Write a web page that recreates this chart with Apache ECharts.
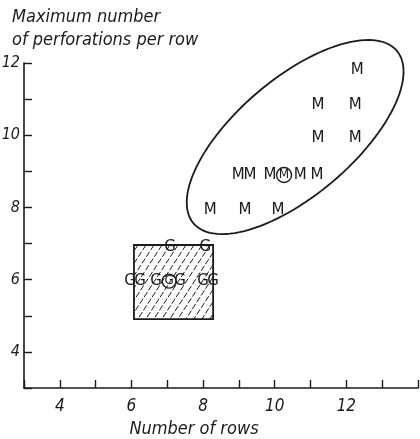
<!DOCTYPE html>
<html><head><meta charset="utf-8">
<script src="https://cdn.jsdelivr.net/npm/echarts@6/dist/echarts.min.js"></script>
<style>html,body{margin:0;padding:0;background:#fff}#c{width:420px;height:439px}</style>
</head><body><div id="c"></div>
<script>
// M points (plain)
const mX = [12.30, 11.21, 12.25, 11.21, 12.25, 8.98, 9.31, 9.87, 10.71, 11.18, 8.20, 9.17, 10.09];
const mY = [11.81, 10.84, 10.84, 9.92, 9.92, 8.90, 8.90, 8.90, 8.90, 8.90, 7.93, 7.93, 7.93];
const mCircled = [10.26, 8.90];
// G points (plain)
const gX = [7.08, 8.06, 5.96, 6.24, 6.69, 7.36, 8.00, 8.28];
const gY = [6.90, 6.90, 5.96, 5.96, 5.96, 5.96, 5.96, 5.96];
const gCircled = [7.05, 5.96];
// hatched box: x range, y range
const boxX = [6.07, 8.28];
const boxY = [4.91, 6.96];
// ellipse: centre, semi-axes (data units), rotation (deg)
const ellCenter = [10.57, 9.95];
const ellAxes = [3.71, 1.62];
const ellAngle = 40;
const xTicks = [4, 6, 8, 10, 12];
const yTicks = [4, 6, 8, 10, 12];

const FONT = '"Liberation Sans Narrow", "DejaVu Sans Condensed", sans-serif';
const INK = '#1a1a1a';

const chart = echarts.init(document.getElementById('c'));

function letterSeries(name, xs, ys, letter) {
  return {
    type: 'custom', name: name,
    data: xs.map((x, i) => [x, ys[i]]),
    renderItem: function (params, api) {
      const p = api.coord([api.value(0), api.value(1)]);
      return {type: 'text', style: {text: letter, x: p[0], y: p[1], align: 'center', verticalAlign: 'middle',
        font: '15px "DejaVu Sans", sans-serif', fill: INK}};
    }
  };
}
function circledSeries(name, pt, letter, r) {
  return {
    type: 'custom', name: name,
    data: [pt],
    renderItem: function (params, api) {
      const p = api.coord([api.value(0), api.value(1)]);
      return {type: 'group', children: [
        {type: 'circle', shape: {cx: p[0], cy: p[1], r: r}, style: {fill: 'none', stroke: INK, lineWidth: 1.4}},
        {type: 'text', style: {text: letter, x: p[0], y: p[1], align: 'center', verticalAlign: 'middle',
          font: '12px "DejaVu Sans", sans-serif', fill: INK}}
      ]};
    }
  };
}

const option = {
  animation: false,
  backgroundColor: '#fff',
  grid: {left: 24, right: 2, top: 63, bottom: 51, containLabel: false, outerBoundsMode: 'none'},
  xAxis: {
    type: 'value', min: 3, max: 14, interval: 1,
    name: 'Number of rows', nameLocation: 'middle', nameGap: 31,
    nameTextStyle: {fontFamily: FONT, fontStyle: 'italic', fontSize: 18, color: INK, padding: [0, 54, 0, 0]},
    axisLine: {lineStyle: {color: INK, width: 1.6}},
    axisTick: {inside: true, length: 8, lineStyle: {color: INK, width: 1.4}},
    axisLabel: {fontFamily: FONT, fontStyle: 'italic', fontSize: 17, color: INK, margin: 10,
      formatter: v => xTicks.indexOf(v) >= 0 ? String(v) : ''},
    splitLine: {show: false}
  },
  yAxis: {
    type: 'value', min: 3, max: 12, interval: 1,
    axisLine: {lineStyle: {color: INK, width: 1.6}},
    axisTick: {inside: true, length: 8, lineStyle: {color: INK, width: 1.4}},
    axisLabel: {fontFamily: FONT, fontStyle: 'italic', fontSize: 16, color: INK, margin: 4,
      formatter: v => yTicks.indexOf(v) >= 0 ? String(v) : ''},
    splitLine: {show: false}
  },
  graphic: [
    {type: 'text', left: 12, top: 8, style: {text: 'Maximum number', font: 'italic 18px ' + FONT, fill: INK}},
    {type: 'text', left: 12, top: 31, style: {text: 'of perforations per row', font: 'italic 18px ' + FONT, fill: INK}}
  ],
  series: [
    {
      type: 'custom', name: 'box', data: [[boxX[0], boxY[0], boxX[1], boxY[1]]],
      renderItem: function (params, api) {
        const a = api.coord([api.value(0), api.value(3)]);
        const b = api.coord([api.value(2), api.value(1)]);
        const x0 = a[0], y0 = a[1], x1 = b[0], y1 = b[1];
        const k = 0.65, step = 8;
        const kids = [];
        for (let c = x0 + k * y0 + step / 2; c < x1 + k * y1; c += step) {
          const ya = Math.max(y0, (c - x1) / k), yb = Math.min(y1, (c - x0) / k);
          if (ya < yb) kids.push({type: 'line', shape: {x1: c - k * ya, y1: ya, x2: c - k * yb, y2: yb},
            style: {stroke: INK, lineWidth: 1, lineDash: [6, 2]}});
        }
        kids.push({type: 'rect', shape: {x: x0, y: y0, width: x1 - x0, height: y1 - y0},
          style: {fill: 'none', stroke: INK, lineWidth: 1.8}});
        return {type: 'group', children: kids};
      }
    },
    {
      type: 'custom', name: 'ellipse', data: [[ellCenter[0], ellCenter[1]]],
      renderItem: function (params, api) {
        const th = ellAngle * Math.PI / 180;
        const pts = [];
        for (let i = 0; i < 120; i++) {
          const t = i / 120 * Math.PI * 2;
          const ux = ellAxes[0] * Math.cos(t), uy = ellAxes[1] * Math.sin(t);
          const dx = ux * Math.cos(th) - uy * Math.sin(th);
          const dy = ux * Math.sin(th) + uy * Math.cos(th);
          pts.push(api.coord([api.value(0) + dx, api.value(1) + dy]));
        }
        return {type: 'polygon', shape: {points: pts}, style: {fill: 'none', stroke: INK, lineWidth: 1.8}};
      }
    },
    letterSeries('M', mX, mY, 'M'),
    letterSeries('G', gX, gY, 'G'),
    circledSeries('Mc', mCircled, 'M', 7.5),
    circledSeries('Gc', gCircled, 'G', 7)
  ]
};
chart.setOption(option);
</script>
</body></html>
